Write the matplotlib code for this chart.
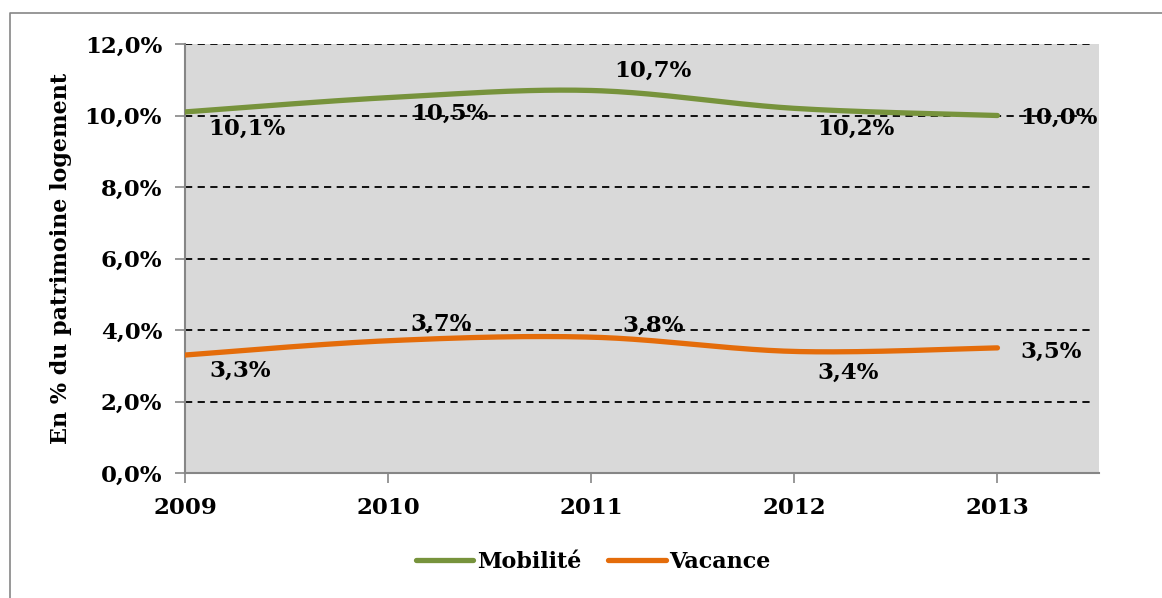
import numpy as np
import matplotlib
matplotlib.use("Agg")
import matplotlib.pyplot as plt
from matplotlib.lines import Line2D

years = ["2009", "2010", "2011", "2012", "2013"]
mobilite = [10.1, 10.5, 10.7, 10.2, 10.0]
vacance = [3.3, 3.7, 3.8, 3.4, 3.5]
series_names = ["Mobilité", "Vacance"]
y_ticks = [0, 2, 4, 6, 8, 10, 12]

GREEN = "#77933C"
ORANGE = "#E46C0A"
FONT = "DejaVu Serif"

# label offsets in pixels (dx, dy) relative to each point, screen coords (y up)
mob_off = [(62, -17), (62, -16), (62, 20), (62, -20), (61, -2)]
vac_off = [(55, -16), (53, 17), (62, 11), (54, -21), (54, -4)]


def smooth(xs, ys, n=40):
    """Bezier smoothing similar to spreadsheet smoothed lines (Catmull-Rom)."""
    xs = np.asarray(xs, float)
    ys = np.asarray(ys, float)
    px, py = [], []
    for i in range(len(xs) - 1):
        x0, y0 = (xs[i - 1], ys[i - 1]) if i > 0 else (xs[i], ys[i])
        x1, y1 = xs[i], ys[i]
        x2, y2 = xs[i + 1], ys[i + 1]
        x3, y3 = (xs[i + 2], ys[i + 2]) if i + 2 < len(xs) else (xs[i + 1], ys[i + 1])
        c1x, c1y = x1 + (x2 - x0) / 6, y1 + (y2 - y0) / 6
        c2x, c2y = x2 - (x3 - x1) / 6, y2 - (y3 - y1) / 6
        t = np.linspace(0, 1, n)
        bx = (1 - t) ** 3 * x1 + 3 * (1 - t) ** 2 * t * c1x + 3 * (1 - t) * t ** 2 * c2x + t ** 3 * x2
        by = (1 - t) ** 3 * y1 + 3 * (1 - t) ** 2 * t * c1y + 3 * (1 - t) * t ** 2 * c2y + t ** 3 * y2
        px.extend(bx if i == 0 else bx[1:])
        py.extend(by if i == 0 else by[1:])
    return np.array(px), np.array(py)


fig = plt.figure(figsize=(11.62, 5.98), dpi=100)
ax = fig.add_axes([185 / 1162, 1 - 473 / 598, (1099 - 185) / 1162, (473 - 44) / 598])
ax.set_facecolor("#D9D9D9")

x = np.arange(len(years))
for vals, col, offs in [(mobilite, GREEN, mob_off), (vacance, ORANGE, vac_off)]:
    sx, sy = smooth(x, vals)
    ax.plot(sx, sy, color=col, lw=3.8, solid_capstyle="round", zorder=3)
    for xi, v, (dx, dy) in zip(x, vals, offs):
        ax.annotate(f"{v:.1f}%".replace(".", ","), (xi, v), xytext=(dx * 0.72, dy * 0.72),
                    textcoords="offset points", ha="center", va="center",
                    fontsize=16.5, fontweight="bold", family=FONT, color="black", zorder=4)

ax.set_xlim(0, 4.5)
ax.set_ylim(0, 12)
ax.set_yticks(y_ticks)
ax.set_yticklabels([f"{t:.1f}%".replace(".", ",") for t in y_ticks], fontsize=16.5,
                   fontweight="bold", family=FONT)
ax.set_xticks(x)
ax.set_xticklabels(years, fontsize=16.5, fontweight="bold", family=FONT)
ax.tick_params(axis="y", length=7, color="#868686", width=1.2, pad=9.5)
ax.tick_params(axis="x", length=7, color="#868686", width=1.2, pad=10)

for yv in y_ticks[1:]:
    ax.axhline(yv, xmin=0, xmax=(1095 - 185) / (1099 - 185), color="black", lw=1.3,
               ls=(0, (4, 3)), zorder=2)

for s in ["top", "right"]:
    ax.spines[s].set_visible(False)
for s in ["left", "bottom"]:
    ax.spines[s].set_color("#868686")
    ax.spines[s].set_linewidth(1.5)
    ax.spines[s].set_zorder(2.5)

ax.set_ylabel("En % du patrimoine logement", fontsize=16, fontweight="bold", family=FONT,
              labelpad=9)

handles = [Line2D([], [], color=GREEN, lw=3.8, solid_capstyle="round"),
           Line2D([], [], color=ORANGE, lw=3.8, solid_capstyle="round")]
fig.legend(handles, series_names, loc="center", bbox_to_anchor=(593 / 1162, 1 - 562 / 598),
           ncol=2, frameon=False, prop={"family": FONT, "weight": "bold", "size": 16},
           handlelength=2.6, handletextpad=0.15, columnspacing=1.2)

# outer chart border (top and left visible)
fig.add_artist(Line2D([10 / 1162, 10 / 1162, 1], [0, 1 - 13 / 598, 1 - 13 / 598],
                      transform=fig.transFigure, color="#868686", lw=1.2))

fig.savefig("out.png", dpi=100)
